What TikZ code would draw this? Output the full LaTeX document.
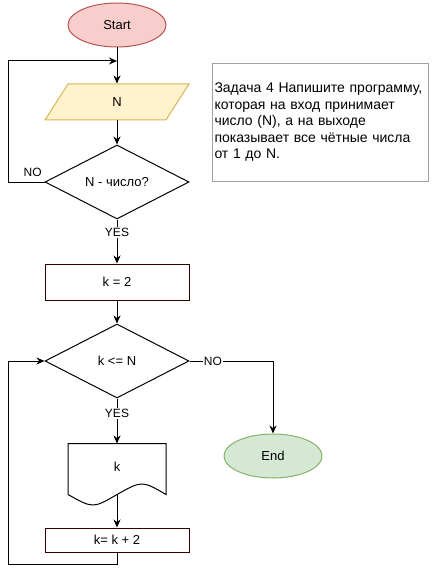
\documentclass[tikz,border=0pt]{standalone}
\usepackage{fontspec}
\setmainfont{Liberation Sans}
\usetikzlibrary{arrows.meta,shapes.geometric}
\definecolor{startfill}{HTML}{F8CECC}
\definecolor{startdraw}{HTML}{B85450}
\definecolor{endfill}{HTML}{D5E8D4}
\definecolor{enddraw}{HTML}{82B366}
\definecolor{iofill}{HTML}{FFF2CC}
\definecolor{iodraw}{HTML}{D6B656}
\definecolor{procdraw}{HTML}{330000}
\definecolor{notedraw}{HTML}{A0A0A0}

\begin{document}
\begin{tikzpicture}[x=1pt,y=-1pt,line width=1pt,
  flow/.style={-{Stealth[length=8pt,width=7pt]}},
  term/.style={ellipse,draw,minimum width=98pt,minimum height=44pt,inner sep=0pt,font=\fontsize{13}{15}\selectfont},
  proc/.style={rectangle,draw=procdraw,minimum width=144pt,inner sep=0pt,font=\fontsize{13}{15}\selectfont},
  cond/.style={diamond,draw,minimum width=144pt,minimum height=74pt,inner sep=0pt,font=\fontsize{13}{15}\selectfont},
  lbl/.style={fill=white,inner sep=1pt,font=\fontsize{12}{14}\selectfont}]
\path[use as bounding box] (0,0) rectangle (431,575);
\node[term,fill=startfill,draw=startdraw] (start) at (117,25) {Start};
% parallelogram drawn by hand
\draw[draw=iodraw,fill=iofill] (45,120) -- (166,120) -- (189,84) -- (68,84) -- cycle;
\node[minimum width=121pt,minimum height=36pt,inner sep=0pt,font=\fontsize{13}{15}\selectfont] (inN) at (117,102) {N};
\node[cond] (isnum) at (117,182) {N - число?};
\node[proc,minimum height=36pt] (kinit) at (117,282) {k = 2};
\node[cond] (test) at (117,361) {k <= N};
\node[minimum width=97pt,minimum height=50pt,inner sep=0pt,font=\fontsize{13}{15}\selectfont] (outk) at (117,469) {\raisebox{4pt}{k}};
\node[proc,minimum height=24pt] (kinc) at (117,540) {k= k + 2};
\node[term,fill=endfill,draw=enddraw] (stop) at (273,456) {End};
\node[anchor=north west,draw=notedraw,text width=212pt,minimum height=118pt,inner sep=2pt,align=left,font=\fontsize{14}{16.5}\selectfont] (task) at (212,63) {Задача 4 Напишите программу, которая на вход принимает число (N), а на выходе показывает все чётные числа от 1 до N.};
\coordinate (merge) at (117,61);
% document shape
\draw (outk.south west) -- (outk.north west) -- (outk.north east) -- (outk.south east)
  .. controls ([xshift=-24pt,yshift=14pt]outk.south east) .. (outk.south)
  .. controls ([xshift=-24pt,yshift=-14pt]outk.south) .. (outk.south west);
% connectors
\draw[flow] (start) -- (inN);
\draw[flow] (inN) -- (isnum);
\draw[flow] (isnum.west) -- node[pos=0.33,anchor=south,inner sep=2pt,yshift=3pt,font=\fontsize{12}{14}\selectfont]{NO} ++(-36,0) |- (merge);
\draw[flow] (isnum.south) -- node[lbl,pos=0.29]{YES} (kinit.north);
\draw[flow] (kinit) -- (test);
\draw[flow] (test.south) -- node[lbl,pos=0.33]{YES} (outk.north);
\draw[flow] (outk.south) -- (kinc.north);
\draw[flow] (kinc.south) -- ++(0,12) -| ([xshift=-36pt]test.west) -- (test.west);
\draw[flow] (test.east) -| node[lbl,pos=0.14]{NO} (stop.north);
\end{tikzpicture}
\end{document}
